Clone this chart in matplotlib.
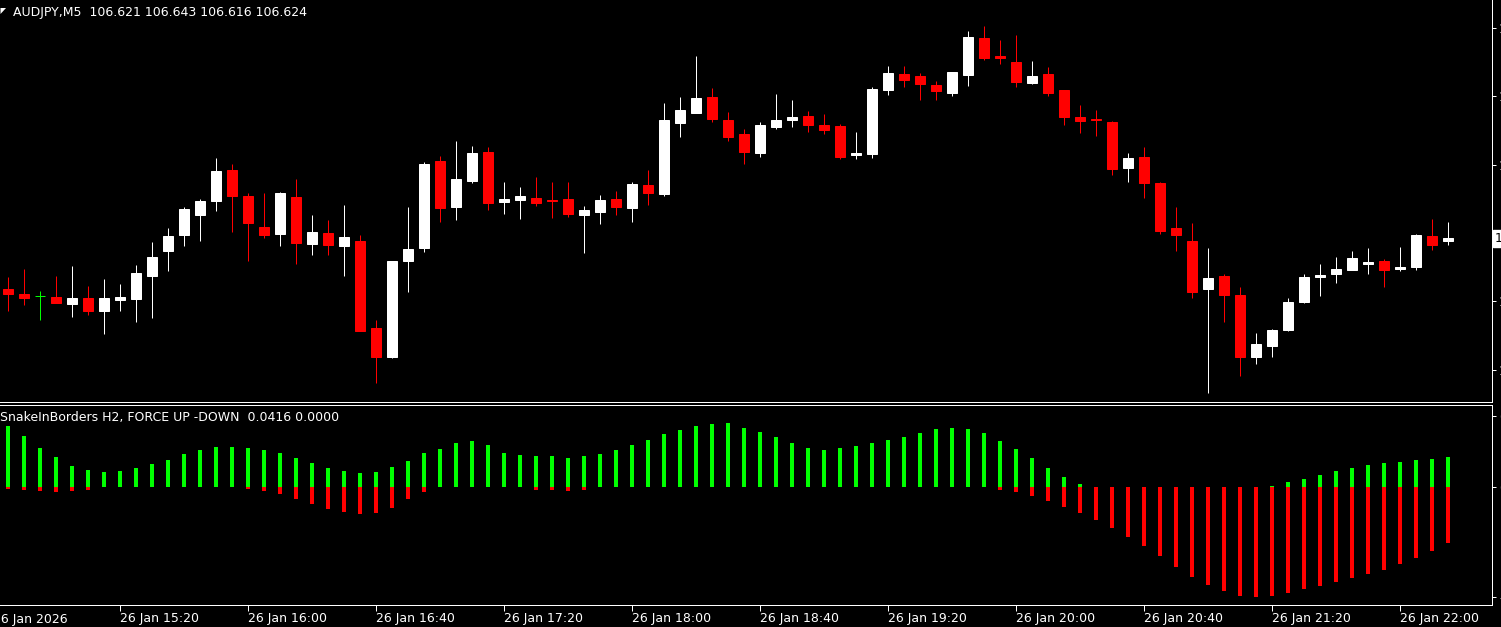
import matplotlib
matplotlib.use('Agg')
import matplotlib.pyplot as plt
from matplotlib.patches import Polygon
import matplotlib.transforms as mtrans

plt.rcParams['font.family'] = 'DejaVu Sans'

# AUDJPY M5, 26 Jan 2026 14:45 .. 22:15
opens = [106.564, 106.559, 106.556, 106.555, 106.547, 106.554, 106.539, 106.552, 106.553, 106.580,
         106.609, 106.628, 106.651, 106.668, 106.704, 106.673, 106.637, 106.629, 106.672, 106.617,
         106.630, 106.615, 106.621, 106.519, 106.485, 106.597, 106.613, 106.714, 106.661, 106.691,
         106.725, 106.666, 106.669, 106.671, 106.669, 106.670, 106.651, 106.655, 106.670, 106.659,
         106.686, 106.676, 106.759, 106.771, 106.789, 106.762, 106.746, 106.724, 106.754, 106.762,
         106.767, 106.757, 106.755, 106.721, 106.723, 106.798, 106.816, 106.814, 106.803, 106.794,
         106.815, 106.858, 106.837, 106.830, 106.806, 106.816, 106.798, 106.766, 106.764, 106.760,
         106.706, 106.719, 106.689, 106.636, 106.621, 106.564, 106.580, 106.557, 106.485, 106.498,
         106.516, 106.549, 106.579, 106.582, 106.587, 106.594, 106.597, 106.588, 106.590, 106.627,
         106.621]
highs = [106.579, 106.588, 106.562, 106.580, 106.591, 106.568, 106.576, 106.570, 106.593, 106.620,
         106.636, 106.661, 106.670, 106.718, 106.711, 106.677, 106.677, 106.678, 106.693, 106.651,
         106.645, 106.663, 106.628, 106.528, 106.597, 106.661, 106.713, 106.720, 106.738, 106.732,
         106.731, 106.690, 106.684, 106.696, 106.690, 106.690, 106.662, 106.675, 106.679, 106.690,
         106.704, 106.782, 106.789, 106.837, 106.800, 106.772, 106.752, 106.760, 106.793, 106.786,
         106.773, 106.769, 106.758, 106.748, 106.801, 106.826, 106.826, 106.818, 106.808, 106.819,
         106.867, 106.873, 106.856, 106.862, 106.832, 106.825, 106.798, 106.780, 106.774, 106.761,
         106.724, 106.731, 106.690, 106.661, 106.642, 106.613, 106.582, 106.567, 106.513, 106.518,
         106.554, 106.582, 106.594, 106.602, 106.609, 106.613, 106.600, 106.614, 106.629, 106.646,
         106.643]
lows = [106.539, 106.546, 106.528, 106.548, 106.532, 106.534, 106.512, 106.539, 106.526, 106.531,
        106.586, 106.615, 106.621, 106.656, 106.631, 106.597, 106.624, 106.615, 106.594, 106.604,
        106.604, 106.580, 106.515, 106.454, 106.484, 106.561, 106.608, 106.643, 106.645, 106.689,
        106.657, 106.652, 106.646, 106.662, 106.648, 106.649, 106.607, 106.641, 106.651, 106.643,
        106.663, 106.673, 106.743, 106.771, 106.760, 106.738, 106.711, 106.719, 106.752, 106.754,
        106.748, 106.746, 106.717, 106.717, 106.718, 106.792, 106.801, 106.786, 106.786, 106.791,
        106.802, 106.833, 106.828, 106.801, 106.805, 106.791, 106.757, 106.747, 106.744, 106.698,
        106.690, 106.671, 106.629, 106.609, 106.554, 106.442, 106.526, 106.463, 106.477, 106.485,
        106.515, 106.548, 106.556, 106.571, 106.587, 106.582, 106.567, 106.586, 106.587, 106.610,
        106.616]
closes = [106.559, 106.554, 106.556, 106.548, 106.554, 106.539, 106.554, 106.555, 106.583, 106.602,
          106.627, 106.658, 106.668, 106.703, 106.673, 106.642, 106.628, 106.677, 106.618, 106.631,
          106.616, 106.625, 106.515, 106.485, 106.597, 106.611, 106.711, 106.659, 106.693, 106.724,
          106.665, 106.670, 106.673, 106.665, 106.667, 106.652, 106.657, 106.669, 106.661, 106.687,
          106.677, 106.762, 106.774, 106.788, 106.764, 106.743, 106.725, 106.757, 106.762, 106.766,
          106.757, 106.751, 106.719, 106.724, 106.799, 106.818, 106.809, 106.805, 106.796, 106.819,
          106.860, 106.835, 106.835, 106.807, 106.814, 106.794, 106.766, 106.761, 106.762, 106.705,
          106.718, 106.689, 106.632, 106.628, 106.561, 106.577, 106.557, 106.485, 106.500, 106.516,
          106.549, 106.579, 106.581, 106.588, 106.601, 106.596, 106.587, 106.590, 106.628, 106.616,
          106.624]

# SnakeInBorders H2, FORCE UP / DOWN
force_up = [0.0859, 0.0718, 0.0549, 0.0423, 0.0296, 0.0239, 0.0211, 0.0225, 0.0268, 0.0324,
            0.0380, 0.0465, 0.0521, 0.0563, 0.0563, 0.0549, 0.0521, 0.0479, 0.0408, 0.0338,
            0.0268, 0.0225, 0.0197, 0.0211, 0.0282, 0.0366, 0.0479, 0.0535, 0.0620, 0.0648,
            0.0591, 0.0479, 0.0451, 0.0437, 0.0437, 0.0408, 0.0437, 0.0465, 0.0521, 0.0591,
            0.0662, 0.0746, 0.0803, 0.0859, 0.0887, 0.0901, 0.0831, 0.0774, 0.0704, 0.0620,
            0.0549, 0.0521, 0.0549, 0.0577, 0.0620, 0.0662, 0.0704, 0.0760, 0.0817, 0.0831,
            0.0817, 0.0760, 0.0648, 0.0535, 0.0408, 0.0268, 0.0141, 0.0042, 0.0, 0.0,
            0.0, 0.0, 0.0, 0.0, 0.0, 0.0, 0.0, 0.0, 0.0, 0.0014,
            0.0070, 0.0113, 0.0169, 0.0225, 0.0268, 0.0310, 0.0338, 0.0352, 0.0380, 0.0394,
            0.0416]
force_down = [-0.0028, -0.0042, -0.0056, -0.0070, -0.0056, -0.0042, 0.0, 0.0, 0.0, 0.0,
              0.0, 0.0, 0.0, 0.0, 0.0, -0.0028, -0.0056, -0.0099, -0.0169, -0.0239,
              -0.0310, -0.0352, -0.0380, -0.0366, -0.0296, -0.0169, -0.0070, 0.0, 0.0, 0.0,
              0.0, 0.0, 0.0, -0.0042, -0.0042, -0.0056, -0.0042, 0.0, 0.0, 0.0,
              0.0, 0.0, 0.0, 0.0, 0.0, 0.0, 0.0, 0.0, 0.0, 0.0,
              0.0, 0.0, 0.0, 0.0, 0.0, 0.0, 0.0, 0.0, 0.0, 0.0,
              0.0, 0.0, -0.0042, -0.0070, -0.0127, -0.0197, -0.0282, -0.0366, -0.0465, -0.0577,
              -0.0704, -0.0831, -0.0972, -0.1127, -0.1268, -0.1380, -0.1465, -0.1535, -0.1549, -0.1535,
              -0.1493, -0.1437, -0.1394, -0.1338, -0.1282, -0.1225, -0.1169, -0.1085, -0.1000, -0.0901,
              -0.0789]

time_pos = [7, 15, 23, 31, 39, 47, 55, 63, 71, 79, 87]
time_labels = ['26 Jan 15:20', '26 Jan 16:00', '26 Jan 16:40', '26 Jan 17:20', '26 Jan 18:00',
               '26 Jan 18:40', '26 Jan 19:20', '26 Jan 20:00', '26 Jan 20:40', '26 Jan 21:20',
               '26 Jan 22:00']
price_ticks = [106.870, 106.790, 106.710, 106.630, 106.550, 106.470]
ind_ticks = [0.1000, 0.0, -0.1549]

W, H = 1501, 627
fig = plt.figure(figsize=(W / 100, H / 100), dpi=100, facecolor='black')

ax = fig.add_axes([0, 225 / H, 1492 / W, 402 / H], facecolor='black')
ax2 = fig.add_axes([0, 22 / H, 1492 / W, 200 / H], facecolor='black')

px = 0.72  # one pixel in points
n = len(opens)
xs = list(range(n))

# candles
for i in xs:
    o, hi, lo, c = opens[i], highs[i], lows[i], closes[i]
    if c > o:
        col = 'white'
    elif c < o:
        col = '#ff0000'
    else:
        col = '#00ff00'
    ax.vlines(i, lo, hi, color=col, linewidth=px)
    if c == o:
        ax.hlines(o, i - 0.34, i + 0.34, color=col, linewidth=px)
    else:
        ax.bar(i, abs(c - o), bottom=min(o, c), width=0.66, color=col,
               edgecolor=col, linewidth=px)

ax.set_xlim(-0.5, 92.75)
ax.set_ylim(106.432, 106.903)
ax.set_xticks([])
ax.yaxis.tick_right()
ax.set_yticks(price_ticks)
# the 106.630 label sits under the current price box
ax.set_yticklabels(['' if p == 106.630 else '%.3f' % p for p in price_ticks])
ax.tick_params(axis='y', colors='white', direction='out', length=3, width=px, pad=2, labelsize=9)
for s in ['top', 'left']:
    ax.spines[s].set_visible(False)
for s in ['right', 'bottom']:
    ax.spines[s].set_color('white')
    ax.spines[s].set_linewidth(px)

# current price label
tr = mtrans.blended_transform_factory(ax.transAxes, ax.transData)
ax.text(1 + 3 / 1492, closes[-1], '%.3f' % closes[-1], transform=tr, color='black',
        fontsize=9, va='center', ha='left', clip_on=False,
        bbox=dict(boxstyle='square,pad=0.15', facecolor='white', edgecolor='white'))

# indicator
ax2.bar(xs, force_up, width=0.19, color='#00ff00', linewidth=0, antialiased=False)
ax2.bar(xs, force_down, width=0.19, color='#ff0000', linewidth=0, antialiased=False)
ax2.set_xlim(-0.5, 92.75)
ax2.set_ylim(-0.1661, 0.1155)
ax2.yaxis.tick_right()
ax2.set_yticks(ind_ticks)
ax2.set_yticklabels(['0.1000', '0.00', '-0.1549'])
ax2.tick_params(axis='y', colors='white', direction='out', length=3, width=px, pad=2, labelsize=9)
ax2.set_xticks(time_pos)
ax2.set_xticklabels(time_labels)
ax2.tick_params(axis='x', colors='white', direction='out', length=4, width=px, pad=1, labelsize=9)
for lab in ax2.get_xticklabels():
    lab.set_horizontalalignment('left')
ax2.spines['left'].set_visible(False)
for s in ['top', 'right', 'bottom']:
    ax2.spines[s].set_color('white')
    ax2.spines[s].set_linewidth(px)
ax2.text(-0.94, -0.1661, '26 Jan 2026', color='white', fontsize=9, ha='left', va='top',
         transform=ax2.transData + mtrans.ScaledTranslation(0, -6 / 72, fig.dpi_scale_trans))

# headers
fig.text(13 / W, 1 - 12.5 / H, 'AUDJPY,M5  %.3f %.3f %.3f %.3f' % (opens[-1], highs[-1], lows[-1], closes[-1]),
         color='white', fontsize=9, va='center', ha='left')
fig.patches.append(Polygon([(0.5 / W, 1 - 8 / H), (6 / W, 1 - 8 / H), (0.5 / W, 1 - 14 / H)],
                           closed=True, facecolor='white', edgecolor='none', transform=fig.transFigure))
fig.text(-0.5 / W, 1 - 418 / H, 'SnakeInBorders H2, FORCE UP -DOWN  %.4f 0.0000' % force_up[-1],
         color='white', fontsize=9, va='center', ha='left')

fig.savefig('out.png', dpi=100, facecolor='black')
